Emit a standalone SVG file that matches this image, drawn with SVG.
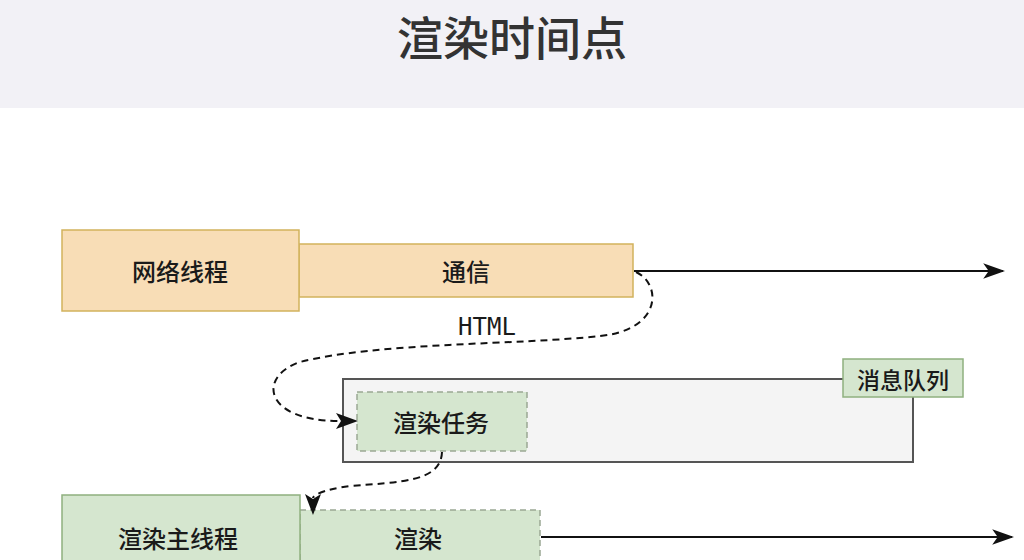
<svg xmlns="http://www.w3.org/2000/svg" width="1024" height="560" viewBox="0 0 1024 560">
  <style>
    .cjk { font-family: "Noto Sans CJK SC", "Noto Sans", sans-serif; fill: #1a1a1a; text-anchor: middle; dominant-baseline: central; font-weight: 500; }
    .lbl { font-size: 24px; }
    .orange { fill: #f8ddb6; stroke: #d2b25c; stroke-width: 1.5; }
    .green { fill: #d5e6cf; stroke: #8fb07f; stroke-width: 1.5; }
    .greendash { fill: #d5e6cf; stroke: #9aa894; stroke-width: 1.5; stroke-dasharray: 6 4; }
    .conn { fill: none; stroke: #111; stroke-width: 2; }
    .dash { fill: none; stroke: #111; stroke-width: 2; stroke-dasharray: 7 5; }
    .head { fill: #111; stroke: none; }
  </style>
  <defs>
    <marker id="arrB" viewBox="0 0 20 14" refX="18" refY="7" markerWidth="22" markerHeight="16" markerUnits="userSpaceOnUse" orient="auto">
      <path d="M0,0 L20,7 L0,14 L5,7 Z" fill="#111" stroke="none"/>
    </marker>
  </defs>
  <rect x="0" y="0" width="1024" height="560" fill="#ffffff"/>
  <rect x="0" y="0" width="1024" height="108" fill="#f2f1f6"/>
  <text class="cjk" x="512" y="35" font-size="46" style="fill:#333">渲染时间点</text>

  <g id="net-comm">
    <rect class="orange" x="299" y="244" width="334" height="53"/>
    <text class="cjk lbl" x="466" y="270">通信</text>
  </g>
  <g id="net-thread">
    <rect class="orange" x="62" y="230" width="237" height="81"/>
    <text class="cjk lbl" x="180" y="270">网络线程</text>
  </g>

  <g id="queue">
    <rect x="343" y="379" width="570" height="83" fill="#f4f4f4" stroke="#555" stroke-width="2"/>
  </g>
  <g id="queue-label">
    <rect class="green" x="843" y="359" width="120" height="38"/>
    <text class="cjk" x="903" y="379" font-size="23">消息队列</text>
  </g>
  <g id="render-task">
    <rect class="greendash" x="357" y="392" width="170" height="59"/>
    <text class="cjk lbl" x="441" y="421">渲染任务</text>
  </g>

  <g id="render">
    <rect class="greendash" x="300" y="510" width="240" height="60"/>
    <text class="cjk lbl" x="418" y="537">渲染</text>
  </g>
  <g id="render-main">
    <rect class="green" x="62" y="495" width="238" height="80"/>
    <text class="cjk lbl" x="178" y="537">渲染主线程</text>
  </g>

  <g id="connectors">
    <line class="conn" x1="634" y1="271" x2="1003" y2="271" marker-end="url(#arrB)"/>
    <line class="conn" x1="541" y1="537" x2="1012" y2="537" marker-end="url(#arrB)"/>
    <path class="dash" d="M636,272 C662,284 662,330 600,336 C520,345 380,342 300,362 C258,376 262,421 340,421"/>
    <polygon class="head" points="358,421 336,413 341,421 336,429"/>
    <path class="dash" d="M442,452 C441,482 400,482 350,486 C320,490 313,496 313,498"/>
    <polygon class="head" points="313,515 305,494 313,499 321,494"/>
    <text x="487" y="327" font-family="DejaVu Sans Mono, Liberation Mono, monospace" font-size="24" font-weight="500" fill="#1a1a1a" text-anchor="middle" dominant-baseline="central">HTML</text>
  </g>
</svg>
